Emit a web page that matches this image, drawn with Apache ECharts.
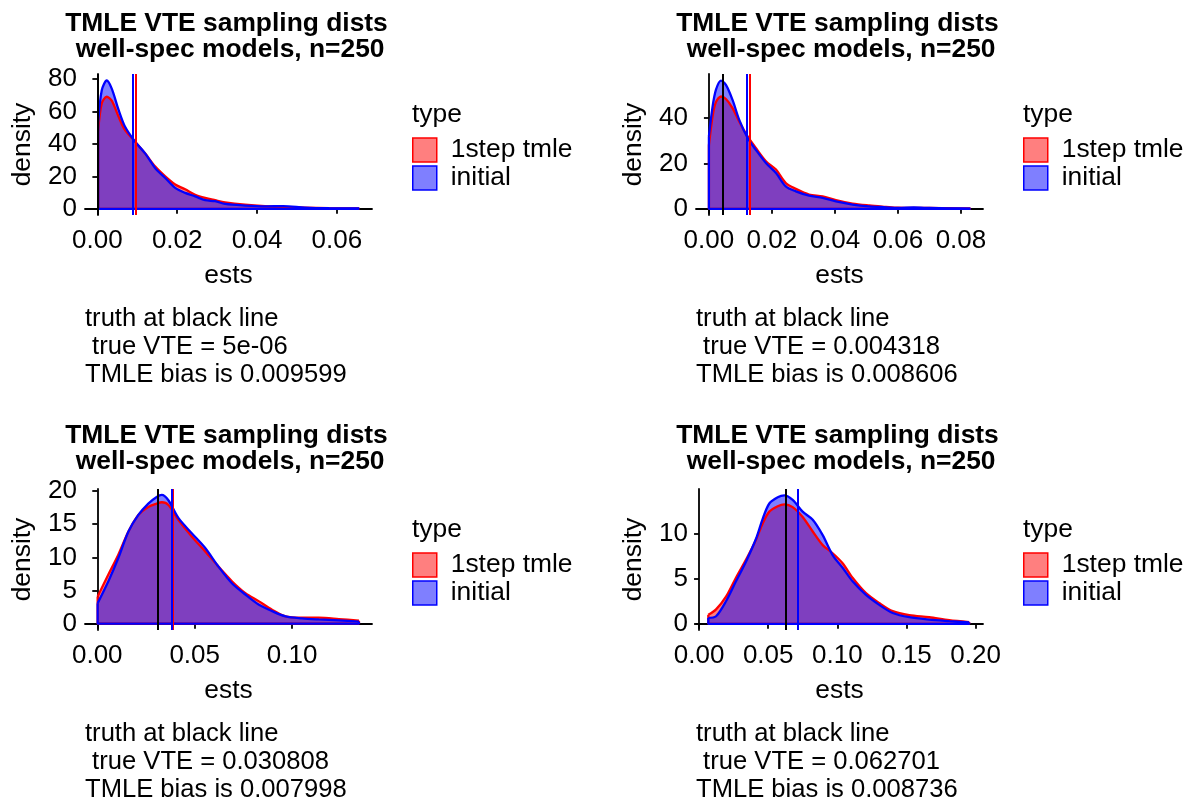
<!DOCTYPE html>
<html>
<head>
<meta charset="utf-8">
<script src="https://cdn.jsdelivr.net/npm/echarts@6/dist/echarts.min.js"></script>
<style>
  html, body { margin: 0; padding: 0; background: #fff; }
  #main { width: 1190px; height: 801px; }
</style>
</head>
<body>
<div id="main"></div>
<script>
// panel 1 (top left): true VTE = 5e-06
var est1  = [0.0002, 0.0011, 0.00235, 0.0036, 0.0053, 0.0069, 0.0094, 0.0120, 0.0145, 0.0170, 0.0195, 0.0220, 0.0245, 0.0270, 0.0295, 0.0320, 0.0370, 0.0420, 0.0466, 0.0520, 0.0580, 0.0656];
var tmle1 = [48, 65, 69, 66.6, 56.8, 48.6, 41.5, 34, 26, 20, 15, 12, 8.7, 6.7, 5.3, 4, 2.5, 1.6, 1.2, 0.8, 0.4, 0.2];
var init1 = [53, 73, 79, 74, 61, 50.7, 41.5, 34, 25, 19, 12.9, 9.8, 7.7, 5.3, 4.7, 3, 2, 1.5, 1.7, 0.8, 0.4, 0.3];
var vlines1 = [0.009604, 0.0089, 0.000005];   // 1step tmle mean, initial mean, truth
var xTicks1 = [0, 0.02, 0.04, 0.06];
var yTicks1 = [0, 20, 40, 60, 80];
var caption1 = 'truth at black line\n true VTE = 5e-06\nTMLE bias is 0.009599';

// panel 2 (top right)
var est2  = [0.0000, 0.00116, 0.00222, 0.00381, 0.0054, 0.0075, 0.0096, 0.0123, 0.0149, 0.0181, 0.0213, 0.0244, 0.0276, 0.0318, 0.0361, 0.0403, 0.0456, 0.0509, 0.0562, 0.0600, 0.0650, 0.0700, 0.0760, 0.0830];
var tmle2 = [28, 40.7, 47, 49.5, 48.4, 44.4, 38.5, 31.9, 26.8, 21, 17.3, 11.4, 8.8, 6.3, 5.5, 3.8, 2.3, 1.5, 0.9, 0.5, 0.4, 0.4, 0.3, 0.2];
var init2 = [32, 45, 52.4, 56.5, 54.6, 48, 39.3, 31.2, 26, 20.2, 15.8, 9.9, 7.7, 5.8, 4.8, 3.3, 1.9, 1.1, 0.7, 0.4, 0.6, 0.4, 0.2, 0.15];
var vlines2 = [0.012924, 0.0121, 0.004318];
var xTicks2 = [0, 0.02, 0.04, 0.06, 0.08];
var yTicks2 = [0, 20, 40];
var caption2 = 'truth at black line\n true VTE = 0.004318\nTMLE bias is 0.008606';

// panel 3 (bottom left)
var est3  = [0.0002, 0.0057, 0.0108, 0.0160, 0.0211, 0.0262, 0.0305, 0.0331, 0.0365, 0.0417, 0.0486, 0.0554, 0.0622, 0.0691, 0.0760, 0.0828, 0.0897, 0.0966, 0.1050, 0.1137, 0.1240, 0.1343];
var tmle3 = [4.1, 7.4, 10.4, 13.9, 16.4, 17.6, 18.1, 18.3, 17.9, 15.6, 13.1, 10.9, 8.6, 6.4, 4.6, 3.4, 2.1, 1.1, 0.9, 0.9, 0.7, 0.45];
var init3 = [3.1, 6.4, 9.9, 13.9, 16.4, 18.1, 19.1, 19.4, 18.6, 15.9, 13.6, 11.4, 8.6, 6.1, 4.4, 2.9, 1.9, 1.1, 0.8, 0.64, 0.5, 0.3];
var vlines3 = [0.038806, 0.0384, 0.030808];
var xTicks3 = [0, 0.05, 0.10];
var yTicks3 = [0, 5, 10, 15, 20];
var caption3 = 'truth at black line\n true VTE = 0.030808\nTMLE bias is 0.007998';

// panel 4 (bottom right)
var est4  = [0.0067, 0.0123, 0.0195, 0.0267, 0.0340, 0.0412, 0.0460, 0.0508, 0.0569, 0.0617, 0.0677, 0.0749, 0.0822, 0.0894, 0.0966, 0.1038, 0.1110, 0.1207, 0.1303, 0.1400, 0.1520, 0.1664, 0.1809, 0.1953];
var tmle4 = [1.0, 1.6, 3.0, 5.1, 7.1, 9.3, 11.1, 12.4, 13.0, 13.2, 12.9, 11.8, 10.2, 8.7, 7.8, 6.7, 5.1, 3.4, 2.3, 1.4, 0.95, 0.73, 0.4, 0.2];
var init4 = [0.65, 0.84, 2.5, 4.7, 6.9, 9.4, 11.6, 13.3, 14.0, 14.2, 13.7, 12.4, 11.5, 9.8, 7.6, 6.2, 4.7, 3.2, 2.1, 1.2, 0.73, 0.47, 0.3, 0.15];
var vlines4 = [0.071437, 0.0715, 0.062701];
var xTicks4 = [0, 0.05, 0.10, 0.15, 0.20];
var yTicks4 = [0, 5, 10];
var caption4 = 'truth at black line\n true VTE = 0.062701\nTMLE bias is 0.008736';

var titleText = 'TMLE VTE sampling dists\n well-spec models, n=250';
var seriesNames = ['1step tmle', 'initial'];

var font = "'Liberation Sans', Arial, Helvetica, sans-serif";

var panels = [
  { est: est1, tmle: tmle1, init: init1, vl: vlines1, xt: xTicks1, yt: yTicks1, xd: 2, xr: [-0.0031, 0.0688], yr: [-3.8, 83],   left: 85,  top: 74,  titleTop: 11,  cap: caption1 },
  { est: est2, tmle: tmle2, init: init2, vl: vlines2, xt: xTicks2, yt: yTicks2, xd: 2, xr: [-0.0041, 0.0870], yr: [-2.7, 59.4], left: 696, top: 74,  titleTop: 11,  cap: caption2 },
  { est: est3, tmle: tmle3, init: init3, vl: vlines3, xt: xTicks3, yt: yTicks3, xd: 2, xr: [-0.0063, 0.1410], yr: [-0.95, 20.3], left: 85,  top: 489, titleTop: 423, cap: caption3 },
  { est: est4, tmle: tmle4, init: init4, vl: vlines4, xt: xTicks4, yt: yTicks4, xd: 2, xr: [-0.0022, 0.2053], yr: [-0.68, 14.9], left: 696, top: 489, titleTop: 423, cap: caption4 }
];

function pairs(xs, ys) {
  return xs.map(function (x, k) { return [x, ys[k]]; });
}
// left edge, baseline and right edge of the density polygon
function edges(xs, ys) {
  var n = xs.length - 1;
  return [[xs[0], ys[0]], [xs[0], 0], [xs[n], 0], [xs[n], ys[n]]];
}

var W = 287, H = 141;
var option = {
  animation: false,
  backgroundColor: '#fff',
  textStyle: { fontFamily: font },
  title: [], legend: [], grid: [], xAxis: [], yAxis: [], series: []
};

panels.forEach(function (p, i) {
  option.grid.push({ left: p.left, top: p.top, width: W, height: H, containLabel: false, outerBoundsMode: 'none' });

  option.title.push({
    text: titleText, left: p.left + W / 2 - 2, top: p.titleTop, textAlign: 'center', padding: 0,
    textStyle: { fontFamily: font, fontSize: 26.4, fontWeight: 'bold', color: '#000', lineHeight: 25.5 }
  });
  option.title.push({
    text: p.cap, left: p.left, top: p.top + 231, padding: 0,
    textStyle: { fontFamily: font, fontSize: 25.6, fontWeight: 'normal', color: '#000', lineHeight: 28 }
  });
  option.title.push({
    text: 'type', left: p.left + 327, top: p.top + 28, padding: 0,
    textStyle: { fontFamily: font, fontSize: 26.4, fontWeight: 'normal', color: '#000' }
  });

  option.legend.push({
    orient: 'vertical', left: p.left + 327, top: p.top + 63, padding: 0,
    itemWidth: 24, itemHeight: 24, itemGap: 2, icon: 'rect', selectedMode: false,
    textStyle: { fontFamily: font, fontSize: 26.4, color: '#000', padding: [0, 0, 0, 9] },
    data: [
      { name: seriesNames[0], itemStyle: { color: 'rgba(255,0,0,0.5)', borderColor: '#ff0000', borderWidth: 1.5 } },
      { name: seriesNames[1], itemStyle: { color: 'rgba(0,0,255,0.5)', borderColor: '#0000ff', borderWidth: 1.5 } }
    ]
  });

  option.xAxis.push({
    type: 'value', gridIndex: i, min: p.xr[0], max: p.xr[1],
    name: 'ests', nameLocation: 'middle', nameGap: 48,
    nameTextStyle: { fontFamily: font, fontSize: 26.4, color: '#000' },
    axisLine: { lineStyle: { color: '#000', width: 1.8 } },
    axisTick: { length: 5, customValues: p.xt, lineStyle: { color: '#000', width: 1.8 } },
    axisLabel: { customValues: p.xt, fontFamily: font, fontSize: 26, color: '#000', margin: 13,
      formatter: function (v) { return v.toFixed(p.xd); } },
    splitLine: { show: false }
  });
  option.yAxis.push({
    type: 'value', gridIndex: i, min: p.yr[0], max: p.yr[1],
    name: 'density', nameLocation: 'middle', nameGap: 49, nameRotate: 90,
    nameTextStyle: { fontFamily: font, fontSize: 26.4, color: '#000' },
    axisLine: { show: true, lineStyle: { color: '#000', width: 1.8 } },
    axisTick: { show: true, length: 5, customValues: p.yt, lineStyle: { color: '#000', width: 1.8 } },
    axisLabel: { customValues: p.yt, fontFamily: font, fontSize: 26, color: '#000', margin: 8 },
    splitLine: { show: false }
  });

  var groups = [
    { name: seriesNames[0], ys: p.tmle, line: '#ff0000', fill: 'rgba(255,0,0,0.5)' },
    { name: seriesNames[1], ys: p.init, line: '#0000ff', fill: 'rgba(0,0,255,0.5)' }
  ];
  groups.forEach(function (g, k) {
    option.series.push({
      type: 'line', name: g.name, xAxisIndex: i, yAxisIndex: i,
      data: pairs(p.est, g.ys), smooth: 0.3, symbol: 'none',
      lineStyle: { color: g.line, width: 2.3 }, itemStyle: { color: g.line },
      areaStyle: { color: g.fill, opacity: 1 }
    });
    var edge = {
      type: 'line', name: g.name + ' edge', xAxisIndex: i, yAxisIndex: i,
      data: edges(p.est, g.ys), symbol: 'none',
      lineStyle: { color: g.line, width: 2.3 }, itemStyle: { color: g.line }
    };
    if (k === 1) {
      edge.markLine = {
        silent: true, symbol: 'none', precision: 8, label: { show: false },
        lineStyle: { type: 'solid', width: 2 },
        data: [
          { xAxis: p.vl[0], lineStyle: { color: '#ff0000', type: 'solid', width: 2 } },
          { xAxis: p.vl[1], lineStyle: { color: '#0000ff', type: 'solid', width: 2 } },
          { xAxis: p.vl[2], lineStyle: { color: '#000000', type: 'solid', width: 2 } }
        ]
      };
    }
    option.series.push(edge);
  });
});

var chart = echarts.init(document.getElementById('main'));
chart.setOption(option);
</script>
</body>
</html>
